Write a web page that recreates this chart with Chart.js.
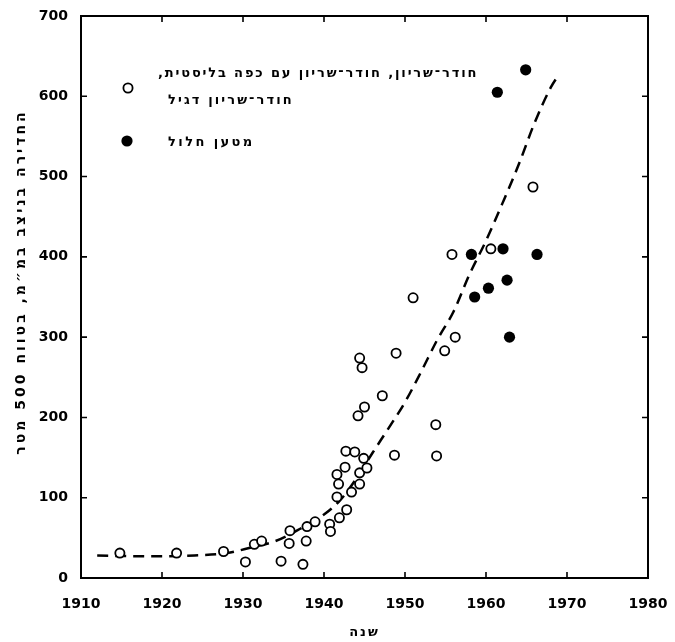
<!DOCTYPE html>
<html><head><meta charset="utf-8">
<script src="https://cdn.jsdelivr.net/npm/chart.js@4.4.0/dist/chart.umd.min.js"></script>
<style>
html,body{margin:0;padding:0;background:#fff;}
#wrap{position:relative;width:675px;height:642px;overflow:hidden;}
#c{position:absolute;left:0;top:0;}
.lbl{position:absolute;white-space:nowrap;font-family:"DejaVu Sans";font-weight:bold;color:#000;line-height:16px;}
.rtl{direction:rtl;unicode-bidi:embed;}
</style>
</head><body>
<div id="wrap">
<canvas id="c" width="675" height="642"></canvas>
<div id="leg1" class="lbl rtl" lang="he" dir="rtl" style="font-size:13px;letter-spacing:1.85px;left:158px;top:65px;"></div>
<div id="leg2" class="lbl rtl" lang="he" dir="rtl" style="font-size:13px;letter-spacing:2.1px;left:168px;top:92px;"></div>
<div id="leg3" class="lbl rtl" lang="he" dir="rtl" style="font-size:13px;letter-spacing:2.4px;left:168px;top:134px;"></div>
<div id="xt" class="lbl rtl" lang="he" dir="rtl" style="font-size:13px;letter-spacing:2px;left:81px;width:567px;top:624px;text-align:center;"></div>
<div id="yt" class="lbl rtl" lang="he" dir="rtl" style="font-size:14px;letter-spacing:3px;left:-180px;width:400px;top:274px;text-align:center;transform:rotate(-90deg);transform-origin:50% 50%;"></div>
</div>
<script>
// ---- data ----
const xTicks = [1910, 1920, 1930, 1940, 1950, 1960, 1970, 1980];
const yTicks = [0, 100, 200, 300, 400, 500, 600, 700];

// open circles: armor-piercing types
const openYears  = [1914.8, 1921.8, 1927.6, 1930.3, 1931.4, 1932.3, 1934.7, 1935.7, 1935.8, 1937.4,
                    1937.8, 1937.9, 1938.9, 1940.7, 1940.8, 1941.6, 1941.8, 1941.6, 1942.6, 1942.7,
                    1941.9, 1942.8, 1943.8, 1943.4, 1944.2, 1944.4, 1944.4, 1944.9, 1945.3, 1944.4,
                    1944.7, 1945.0, 1947.2, 1948.9, 1948.7, 1951.0, 1953.8, 1953.9, 1954.9, 1956.2,
                    1955.8, 1960.6, 1965.8];
const openValues = [31, 31, 33, 20, 42, 46, 21, 43, 59, 17,
                    46, 64, 70, 67, 58, 101, 117, 129, 138, 158,
                    75, 85, 157, 107, 202, 131, 117, 149, 137, 274,
                    262, 213, 227, 280, 153, 349, 191, 152, 283, 300,
                    403, 410, 487];

// filled circles: hollow charge
const filledYears  = [1958.2, 1958.6, 1960.3, 1961.4, 1962.1, 1962.6, 1962.9, 1964.9, 1966.3];
const filledValues = [403, 350, 361, 605, 410, 371, 300, 633, 403];

// dashed trend curve
const curveYears  = [1912, 1918, 1924, 1928, 1931, 1934, 1937, 1940, 1942, 1944, 1946, 1948,
                     1950, 1952, 1954, 1956, 1958, 1960, 1962, 1964, 1966, 1968, 1969];
const curveValues = [28, 27, 28, 31, 38, 46, 61, 79, 97, 124, 156, 187,
                     219, 257, 297, 332, 379, 420, 466, 514, 567, 611, 627];

const legendOpenLine1 = "חודר־שריון, חודר־שריון עם כפה בליסטית,";
const legendOpenLine2 = "חודר־שריון דגיל";
const legendFilled = "מטען חלול";
const yTitle = "החדירה בניצב במ״מ, בטווח 500 מטר";
const xTitle = "שנה";

document.getElementById('leg1').textContent = legendOpenLine1;
document.getElementById('leg2').textContent = legendOpenLine2;
document.getElementById('leg3').textContent = legendFilled;
document.getElementById('xt').textContent = xTitle;
document.getElementById('yt').textContent = yTitle;

const toPts = (xs, ys) => xs.map((x, i) => ({x: x, y: ys[i]}));

const framePlugin = {
  id: 'frame',
  afterDatasetsDraw(chart) {
    const {ctx, chartArea: a, scales: {x, y}} = chart;
    ctx.save();
    ctx.strokeStyle = '#000';
    ctx.lineWidth = 2;
    ctx.strokeRect(a.left, a.top, a.right - a.left, a.bottom - a.top);
    ctx.lineWidth = 1.6;
    const tl = 6;
    ctx.beginPath();
    xTicks.forEach(v => {
      const px = x.getPixelForValue(v);
      ctx.moveTo(px, a.bottom); ctx.lineTo(px, a.bottom - tl);
      ctx.moveTo(px, a.top); ctx.lineTo(px, a.top + tl);
    });
    yTicks.forEach(v => {
      const py = y.getPixelForValue(v);
      ctx.moveTo(a.left, py); ctx.lineTo(a.left + tl, py);
      ctx.moveTo(a.right, py); ctx.lineTo(a.right - tl, py);
    });
    ctx.stroke();
    ctx.restore();
  }
};

const legendMarkers = {
  id: 'legendMarkers',
  afterDraw(chart) {
    const {ctx, chartArea: a} = chart;
    ctx.save();
    const mx = a.left + 47;
    ctx.beginPath(); ctx.arc(mx, a.top + 72, 4.6, 0, Math.PI * 2);
    ctx.fillStyle = '#fff'; ctx.fill();
    ctx.lineWidth = 1.8; ctx.strokeStyle = '#000'; ctx.stroke();
    ctx.beginPath(); ctx.arc(mx - 1, a.top + 125, 5.6, 0, Math.PI * 2);
    ctx.fillStyle = '#000'; ctx.fill();
    ctx.restore();
  }
};

const zeroPad = s => { s.paddingLeft = 0; s.paddingRight = 0; s.paddingTop = 0; s.paddingBottom = 0; };

new Chart(document.getElementById('c'), {
  type: 'scatter',
  data: {
    datasets: [
      {
        label: 'curve',
        type: 'line',
        data: toPts(curveYears, curveValues),
        showLine: true,
        borderColor: '#000',
        borderWidth: 2.5,
        borderDash: [11, 7],
        pointRadius: 0,
        cubicInterpolationMode: 'monotone',
        fill: false,
        order: 3
      },
      {
        label: legendOpenLine1 + ' ' + legendOpenLine2,
        data: toPts(openYears, openValues),
        pointRadius: 4.6,
        pointBorderWidth: 1.8,
        pointBackgroundColor: '#fff',
        pointBorderColor: '#000',
        order: 1
      },
      {
        label: legendFilled,
        data: toPts(filledYears, filledValues),
        pointRadius: 5.6,
        pointBorderWidth: 0,
        pointBackgroundColor: '#000',
        pointBorderColor: '#000',
        order: 2
      }
    ]
  },
  options: {
    responsive: false,
    animation: false,
    devicePixelRatio: 1,
    layout: {padding: {top: 16, right: 27, left: 0, bottom: 0}},
    plugins: {legend: {display: false}, tooltip: {enabled: false}},
    scales: {
      x: {
        type: 'linear', min: 1910, max: 1980,
        afterFit: s => { s.height = 64; zeroPad(s); },
        afterBuildTicks: s => { s.ticks = xTicks.map(v => ({value: v})); },
        grid: {display: false, drawTicks: false},
        border: {display: false},
        ticks: {padding: 18, color: '#000', font: {family: 'DejaVu Sans', size: 14, weight: 'bold'},
                callback: v => String(v), maxRotation: 0},
        title: {display: false}
      },
      y: {
        type: 'linear', min: 0, max: 700,
        afterFit: s => { s.width = 81; zeroPad(s); },
        afterBuildTicks: s => { s.ticks = yTicks.map(v => ({value: v})); },
        grid: {display: false, drawTicks: false},
        border: {display: false},
        ticks: {padding: 13, color: '#000', font: {family: 'DejaVu Sans', size: 14, weight: 'bold'},
                callback: v => String(v)},
        title: {display: false}
      }
    }
  },
  plugins: [framePlugin, legendMarkers]
});
</script>
</body></html>
